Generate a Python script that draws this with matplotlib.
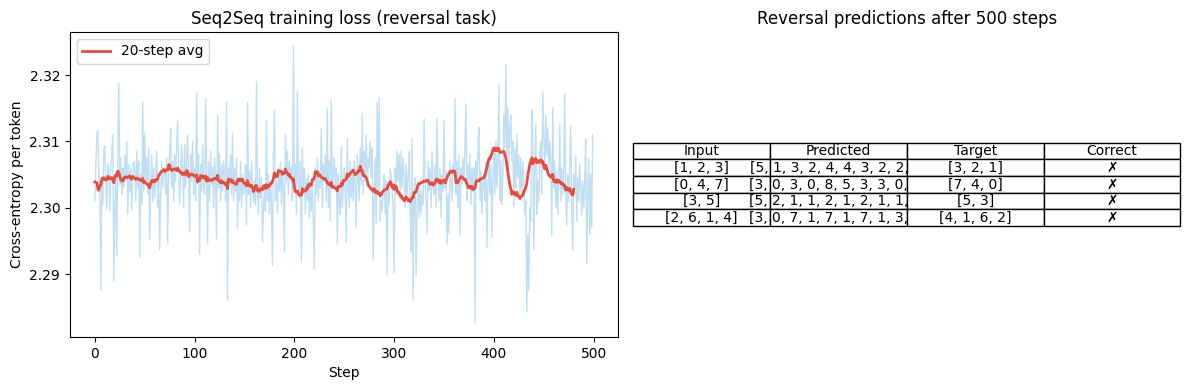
import numpy as np
import matplotlib
matplotlib.use("Agg")
import matplotlib.pyplot as plt

# per-step training loss (500 steps)
loss = [
    2.3010, 2.3065, 2.3112, 2.3116, 2.3048, 2.3022, 2.2876, 2.3045, 2.3005, 2.3090,
    2.3093, 2.3030, 2.2998, 2.3066, 2.3060, 2.2995, 2.3060, 2.3085, 2.3110, 2.2890,
    2.3000, 2.3055, 2.2928, 2.3070, 2.3188, 2.3035, 2.3075, 2.3020, 2.3060, 2.3030,
    2.3078, 2.3040, 2.3100, 2.2990, 2.3065, 2.3025, 2.3060, 2.2995, 2.3050, 2.3070,
    2.3060, 2.3010, 2.3085, 2.3030, 2.3070, 2.2925, 2.3050, 2.3005, 2.3160, 2.3025,
    2.3113, 2.3040, 2.3075, 2.3020, 2.3090, 2.2952, 2.3035, 2.3080, 2.3010, 2.3060,
    2.3015, 2.3050, 2.3085, 2.3000, 2.3040, 2.2937, 2.3025, 2.3070, 2.3030, 2.3060,
    2.3060, 2.3020, 2.3075, 2.2945, 2.3050, 2.3090, 2.3119, 2.3030, 2.3070, 2.3010,
    2.3080, 2.3040, 2.3100, 2.3131, 2.3060, 2.3005, 2.3050, 2.3095, 2.3060, 2.3000,
    2.3095, 2.3030, 2.3070, 2.3110, 2.3045, 2.2963, 2.3080, 2.3040, 2.3100, 2.3020,
    2.3060, 2.3010, 2.3173, 2.3040, 2.3080, 2.2930, 2.3065, 2.3025, 2.3095, 2.3030,
    2.3020, 2.3165, 2.3050, 2.2945, 2.3070, 2.3010, 2.3085, 2.3035, 2.3060, 2.3000,
    2.3075, 2.3040, 2.2953, 2.3139, 2.3030, 2.3080, 2.3010, 2.3065, 2.3025, 2.3070,
    2.3050, 2.3010, 2.3159, 2.2861, 2.3060, 2.3035, 2.3080, 2.3020, 2.3113, 2.3010,
    2.3060, 2.3025, 2.3075, 2.2968, 2.3045, 2.3010, 2.3070, 2.3000, 2.3050, 2.3020,
    2.3030, 2.3065, 2.2974, 2.3159, 2.3020, 2.3055, 2.3000, 2.3070, 2.3035, 2.3010,
    2.3040, 2.3005, 2.3190, 2.3020, 2.2990, 2.3060, 2.3015, 2.3045, 2.2948, 2.3000,
    2.3030, 2.2995, 2.3131, 2.3010, 2.3050, 2.2990, 2.3040, 2.3005, 2.2913, 2.3080,
    2.3147, 2.3010, 2.3040, 2.2990, 2.3060, 2.3025, 2.3070, 2.3005, 2.3055, 2.3030,
    2.2933, 2.3111, 2.3040, 2.3085, 2.3020, 2.3070, 2.3045, 2.3060, 2.3010, 2.3244,
    2.3030, 2.3065, 2.2990, 2.3174, 2.3040, 2.3015, 2.3070, 2.2918, 2.3090, 2.3030,
    2.3060, 2.2990, 2.3045, 2.3010, 2.3050, 2.2985, 2.3030, 2.2995, 2.3040, 2.2975,
    2.2907, 2.3060, 2.3020, 2.3075, 2.3010, 2.3055, 2.3030, 2.3119, 2.3000, 2.3065,
    2.3040, 2.3080, 2.3010, 2.3150, 2.3000, 2.3070, 2.2980, 2.3162, 2.3030, 2.3050,
    2.3075, 2.3030, 2.3060, 2.2945, 2.3050, 2.3010, 2.2990, 2.3093, 2.3000, 2.3030,
    2.3060, 2.3020, 2.2948, 2.3104, 2.3035, 2.3000, 2.3070, 2.3015, 2.3055, 2.3010,
    2.3070, 2.3030, 2.2971, 2.3080, 2.3045, 2.3010, 2.3090, 2.3035, 2.3142, 2.3020,
    2.3085, 2.3040, 2.3110, 2.3030, 2.3075, 2.3060, 2.3100, 2.3045, 2.3090, 2.2922,
    2.3010, 2.3075, 2.2975, 2.3159, 2.3020, 2.3166, 2.2980, 2.3010, 2.2995, 2.3030,
    2.3050, 2.2990, 2.3040, 2.2899, 2.3035, 2.3005, 2.3060, 2.3045, 2.3030, 2.3000,
    2.2902, 2.3060, 2.3020, 2.3085, 2.3040, 2.3080, 2.3010, 2.3085, 2.3030, 2.3075,
    2.3050, 2.3000, 2.3065, 2.3020, 2.3045, 2.3085, 2.2995, 2.2933, 2.3105, 2.2860,
    2.3020, 2.3045, 2.2898, 2.3010, 2.3040, 2.2985, 2.3030, 2.2990, 2.3025, 2.3005,
    2.3134, 2.3040, 2.3010, 2.2960, 2.3070, 2.3025, 2.3060, 2.3000, 2.3085, 2.3030,
    2.3020, 2.3065, 2.3000, 2.3134, 2.3040, 2.3010, 2.3060, 2.2985, 2.3050, 2.3025,
    2.3131, 2.3030, 2.3055, 2.2945, 2.3020, 2.2960, 2.3070, 2.3040, 2.3010, 2.3065,
    2.3050, 2.3165, 2.3020, 2.3070, 2.3000, 2.3080, 2.2959, 2.3060, 2.3035, 2.3075,
    2.3040, 2.3090, 2.3157, 2.3010, 2.3065, 2.3030, 2.3080, 2.3005, 2.3060, 2.3025,
    2.3060, 2.2826, 2.3070, 2.3030, 2.3090, 2.3121, 2.3010, 2.3055, 2.2990, 2.3040,
    2.3050, 2.3010, 2.3070, 2.2940, 2.3035, 2.3080, 2.3020, 2.3065, 2.2955, 2.3045,
    2.3090, 2.3020, 2.3100, 2.3030, 2.3075, 2.3185, 2.3010, 2.3070, 2.3005, 2.3050,
    2.3140, 2.3090, 2.3217, 2.3080, 2.3150, 2.3060, 2.3125, 2.3139, 2.3070, 2.3100,
    2.3002, 2.3090, 2.3030, 2.3110, 2.3045, 2.3080, 2.3020, 2.3075, 2.3010, 2.3070,
    2.3040, 2.2990, 2.3010, 2.2844, 2.2960, 2.2875, 2.3000, 2.2980, 2.3147, 2.3090,
    2.2937, 2.3060, 2.3127, 2.2990, 2.3040, 2.3010, 2.3080, 2.3100, 2.3020, 2.3174,
    2.3110, 2.3060, 2.3140, 2.3080, 2.3120, 2.3050, 2.3100, 2.3070, 2.2959, 2.3151,
    2.3030, 2.3070, 2.3000, 2.3055, 2.2990, 2.3040, 2.3127, 2.3010, 2.3060, 2.3020,
    2.3040, 2.3172, 2.3020, 2.2974, 2.3050, 2.3010, 2.3065, 2.3124, 2.3000, 2.2936,
    2.3050, 2.3020, 2.3078, 2.2980, 2.3045, 2.3010, 2.3065, 2.3030, 2.2989, 2.3040,
    2.3000, 2.3040, 2.3104, 2.2915, 2.3020, 2.3075, 2.2960, 2.3050, 2.2970, 2.3110,
]
window = 20

# prediction table
col_labels = ["Input", "Predicted", "Target", "Correct"]
inputs = ["[1, 2, 3]", "[0, 4, 7]", "[3, 5]", "[2, 6, 1, 4]"]
predicted = [
    "[5, 1, 3, 2, 4, 4, 3, 2, 2, 4]",
    "[3, 0, 3, 0, 8, 5, 3, 3, 0, 8]",
    "[5, 2, 1, 1, 2, 1, 2, 1, 1, 2]",
    "[3, 0, 7, 1, 7, 1, 7, 1, 3, 0]",
]
targets = ["[3, 2, 1]", "[7, 4, 0]", "[5, 3]", "[4, 1, 6, 2]"]
correct = ["\u2717", "\u2717", "\u2717", "\u2717"]

loss = np.array(loss)
steps = np.arange(len(loss))
smooth = np.convolve(loss, np.ones(window) / window, mode="valid")

fig, (ax1, ax2) = plt.subplots(1, 2, figsize=(11.9, 3.9), dpi=100)
fig.subplots_adjust(left=0.0588, right=0.992, bottom=0.136, top=0.918, wspace=0.028)

ax1.plot(steps, loss, color="#3498db", alpha=0.3, linewidth=1)
ax1.plot(np.arange(len(smooth)), smooth, color="#e74c3c", linewidth=2,
         label=f"{window}-step avg")
ax1.set_title("Seq2Seq training loss (reversal task)")
ax1.set_xlabel("Step")
ax1.set_ylabel("Cross-entropy per token")
ax1.legend(loc="upper left")

ax2.axis("off")
rows = [list(r) for r in zip(inputs, predicted, targets, correct)]
table = ax2.table(cellText=rows, colLabels=col_labels, loc="center", cellLoc="center")
table.auto_set_font_size(False)
table.set_fontsize(10)
ax2.set_title("Reversal predictions after 500 steps")

fig.savefig("out.png")
